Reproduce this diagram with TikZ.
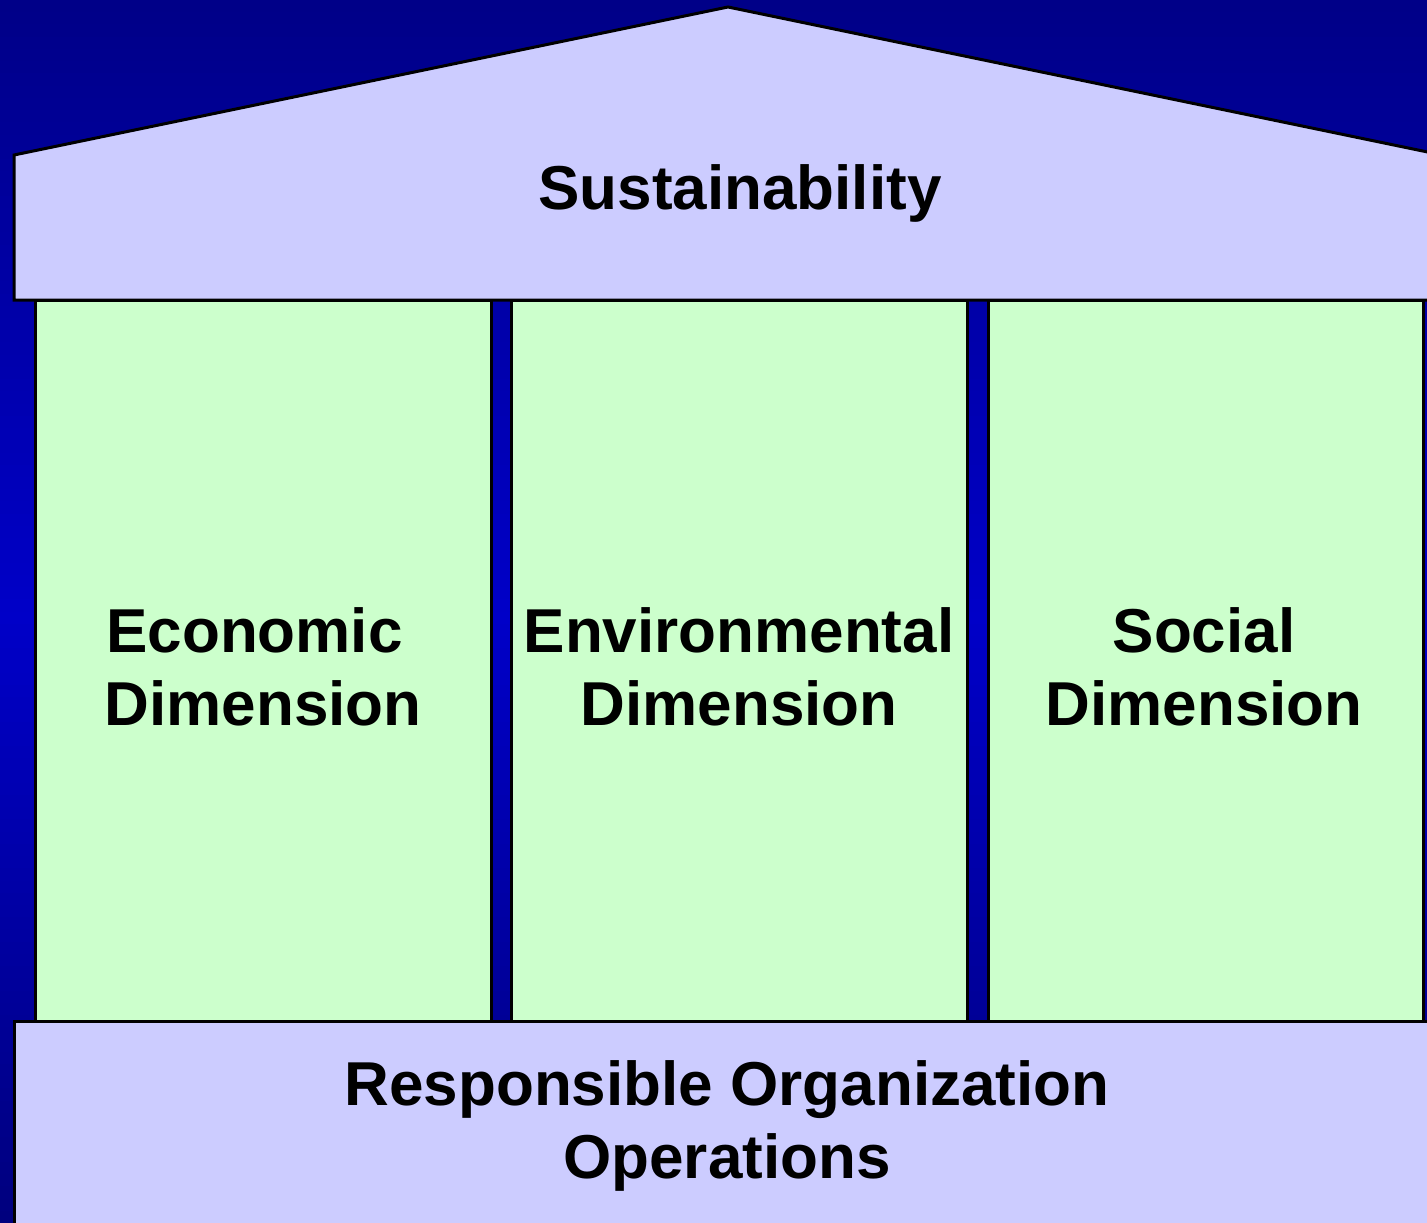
\documentclass[tikz,border=0pt]{standalone}
\usepackage{fontspec}
\setmainfont{Liberation Sans}
\begin{document}
\begin{tikzpicture}[x=1pt,y=-1pt,
  roofbox/.style={draw=black,line width=3pt,fill=lav,line join=miter},
  pillarbox/.style={draw=black,line width=3pt,fill=mint},
  lbl/.style={font=\fontsize{62}{73}\selectfont\bfseries,align=center,anchor=base,text=black,inner sep=0pt}]
\definecolor{lav}{HTML}{CCCCFF}
\definecolor{mint}{HTML}{CCFFCC}
\definecolor{bgtop}{HTML}{000088}
\definecolor{bgmid}{HTML}{0000C8}
\definecolor{bgbot}{HTML}{00007E}
\useasboundingbox (0,0) rectangle (1427,1223);
% background gradient as strips
\foreach \i in {0,...,99}{
  \pgfmathsetmacro\yA{\i*12.23}
  \pgfmathsetmacro\yB{\i*12.23+13}
  \ifnum\i<50
    \pgfmathsetmacro\p{\i*2}
    \fill[bgmid!\p!bgtop] (0,\yA) rectangle (1427,\yB);
  \else
    \pgfmathsetmacro\p{(99-\i)*2.04}
    \fill[bgmid!\p!bgbot] (0,\yA) rectangle (1427,\yB);
  \fi
}
\begin{scope}
\clip (0,0) rectangle (1427,1223);
% pillars
\draw[pillarbox] (35,300) rectangle (491,1021);
\draw[pillarbox] (511,300) rectangle (967,1021);
\draw[pillarbox] (988,300) rectangle (1423,1021);
% roof
\draw[roofbox] (14,300) -- (14,155) -- (728,7) -- (1442,155) -- (1442,300) -- cycle;
% base
\draw[roofbox] (14,1021) rectangle (1442,1240);
\end{scope}
\node[lbl] (sus) at (740,209) {Sustainability};
\node[lbl] (eco) at (263,725) {Economic\rule{17pt}{0pt}\\Dimension};
\node[lbl] (env) at (739,725) {Environmental\\Dimension};
\node[lbl] (soc) at (1204,725) {Social\\Dimension};
\node[lbl] (ops) at (727,1178) {Responsible Organization\\Operations};
\end{tikzpicture}
\end{document}
